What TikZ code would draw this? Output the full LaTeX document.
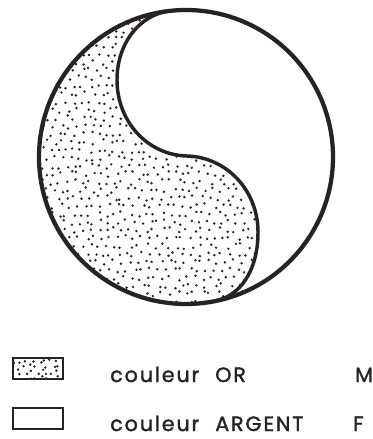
\documentclass[tikz,border=0pt]{standalone}
\usepackage{fontspec}
\setmainfont{Poppins}[FakeBold=1.6,LetterSpace=9]
\usepackage{tikz}
\definecolor{ink}{RGB}{40,34,34}
\tikzset{
  rim/.style={draw=ink,line width=3.2pt},
  split/.style={draw=ink,line width=2.6pt},
  swatch/.style={draw=ink,line width=1.6pt,minimum width=37.5pt,minimum height=15.5pt,inner sep=0pt},
  lbl/.style={font=\fontsize{15.5}{17}\selectfont,text=ink,anchor=base west,inner sep=0pt},
  grain/.style={fill=ink},
}
% jittered stipple: x0, y0, cols, rows, step
\newcommand{\stipple}[5]{%
  \foreach \i in {0,...,#3}{
    \foreach \j in {0,...,#4}{
      \pgfmathsetmacro{\px}{#1+\i*#5+mod(\j,2)*#5/2+2.8*rand}
      \pgfmathsetmacro{\py}{#2+\j*#5+2.8*rand}
      \fill[grain] (\px,\py) circle[radius=1.35];
    }
  }}

\begin{document}
\begin{tikzpicture}[x=0.75pt,y=-0.75pt]
  \useasboundingbox (0,0) rectangle (373,439);
  \pgfmathsetseed{7}
  % disc
  \coordinate (ctr) at (186,157);
  \coordinate (top) at (170,11);
  \coordinate (bot) at (215,301);
  \coordinate (mid) at (187,156);
  \begin{scope}
    \clip (ctr) circle[radius=147];
    \clip (top) .. controls (141,14) and (117,42) .. (117,80)
      .. controls (117,121) and (147,155) .. (mid)
      .. controls (226,157) and (258,190) .. (258,232)
      .. controls (258,271) and (240,296) .. (bot)
      -- (215,340) -- (0,340) -- (0,-20) -- (170,-20) -- cycle;
    \stipple{34}{6}{28}{37}{8}
  \end{scope}
  \draw[split] (top) .. controls (141,14) and (117,42) .. (117,80)
      .. controls (117,121) and (147,155) .. (mid)
      .. controls (226,157) and (258,190) .. (258,232)
      .. controls (258,271) and (240,296) .. (bot);
  \draw[rim] (ctr) circle[radius=147];

  % legend
  \node[swatch] (or box) at (38,368.5) {};
  \begin{scope}
    \clip (or box.south west) rectangle (or box.north east);
    \stipple{15}{361}{7}{3}{6}
  \end{scope}
  \node[swatch] (ag box) at (38,418.5) {};
  \node[lbl] (or c) at (110,382) {couleur};
  \node[lbl] (or t) at (215,382) {OR};
  \node[lbl] (or s) at (355,382) {M};
  \node[lbl] (ag c) at (110,431) {couleur};
  \node[lbl] (ag t) at (215,431) {ARGENT};
  \node[lbl] (ag s) at (353,431) {F};
\end{tikzpicture}
\end{document}
